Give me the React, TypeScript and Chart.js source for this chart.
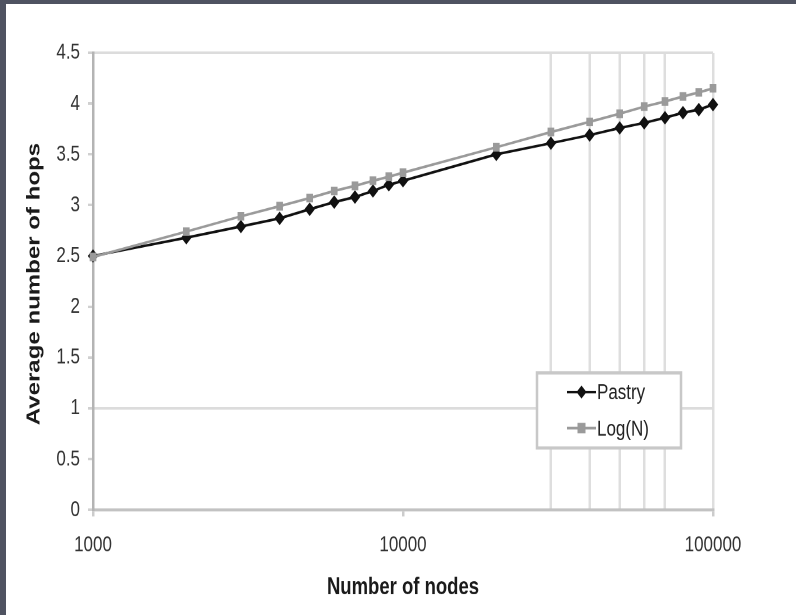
import React, { useEffect, useRef } from 'react';
import { Chart, registerables } from 'chart.js';

Chart.register(...registerables);

// ---- data ----
const NODES = [1000, 2000, 3000, 4000, 5000, 6000, 7000, 8000, 9000, 10000, 20000, 30000, 40000, 50000, 60000, 70000, 80000, 90000, 100000];
const PASTRY = [2.5, 2.68, 2.79, 2.87, 2.96, 3.03, 3.08, 3.14, 3.2, 3.24, 3.5, 3.61, 3.69, 3.76, 3.81, 3.86, 3.91, 3.94, 3.99];
const LOGN = [2.49, 2.74, 2.89, 2.99, 3.07, 3.14, 3.19, 3.24, 3.28, 3.32, 3.57, 3.72, 3.82, 3.9, 3.97, 4.02, 4.07, 4.11, 4.15];
const SERIES_NAMES = ['Pastry', 'Log(N)'];
const X_TICK_LABELS = ['1000', '10000', '100000'];
const X_GRID_VALUES = [30000, 40000, 50000, 60000, 70000, 100000];
const Y_GRID_VALUES = [1, 4.5];
const Y_MIN = 0;
const Y_MAX = 4.5;
const Y_STEP = 0.5;
const X_TITLE = 'Number of nodes';
const Y_TITLE = 'Average number of hops';

// ---- layout (canvas logical space; canvas is stretched vertically by CSS) ----
const W = 790;
const H = 470;
const CSS_H = 611;
const FONT = '"Liberation Sans", Arial, Helvetica, sans-serif';

const PASTRY_COLOR = '#111111';
const LOGN_COLOR = '#9a9a9a';

const near = (a: number, b: number) => Math.abs(a - b) < 1e-6 * Math.max(1, Math.abs(b));

function drawDiamond(ctx: CanvasRenderingContext2D, x: number, y: number, r: number) {
  ctx.beginPath();
  ctx.moveTo(x, y - r);
  ctx.lineTo(x + r, y);
  ctx.lineTo(x, y + r);
  ctx.lineTo(x - r, y);
  ctx.closePath();
  ctx.fill();
}

const overlayPlugin = {
  id: 'overlay',
  afterDraw(chart: any) {
    const ctx: CanvasRenderingContext2D = chart.ctx;
    const ca = chart.chartArea;
    ctx.save();
    // axis titles
    ctx.fillStyle = '#1a1a1a';
    ctx.font = `bold 18.5px ${FONT}`;
    ctx.textAlign = 'center';
    ctx.textBaseline = 'middle';
    ctx.fillText(X_TITLE, (ca.left + ca.right) / 2, 448.8);
    ctx.save();
    ctx.translate(28.5, 215.4);
    ctx.rotate(-Math.PI / 2);
    ctx.fillText(Y_TITLE, 0, 0);
    ctx.restore();

    // legend box
    const lx = 531, ly = 283.8, lw = 144, lh = 57.7;
    ctx.fillStyle = '#ffffff';
    ctx.fillRect(lx, ly, lw, lh);
    ctx.strokeStyle = '#c8c8c8';
    ctx.lineWidth = 2.5;
    ctx.strokeRect(lx, ly, lw, lh);

    const rows = [
      { name: SERIES_NAMES[0], color: PASTRY_COLOR, y: 298.5, shape: 'diamond' },
      { name: SERIES_NAMES[1], color: LOGN_COLOR, y: 326.2, shape: 'square' },
    ];
    rows.forEach((r) => {
      ctx.strokeStyle = r.color;
      ctx.lineWidth = 2;
      ctx.beginPath();
      ctx.moveTo(561, r.y);
      ctx.lineTo(590, r.y);
      ctx.stroke();
      ctx.fillStyle = r.color;
      if (r.shape === 'diamond') drawDiamond(ctx, 575.5, r.y, 5);
      else ctx.fillRect(571.5, r.y - 4, 8, 8);
      ctx.fillStyle = '#222222';
      ctx.font = `17px ${FONT}`;
      ctx.textAlign = 'left';
      ctx.textBaseline = 'middle';
      ctx.fillText(r.name, 591, r.y + 1);
    });
    ctx.restore();
  },
};

export default function App() {
  const ref = useRef<HTMLCanvasElement | null>(null);

  useEffect(() => {
    if (!ref.current) return;
    const chart = new Chart(ref.current, {
      type: 'line',
      data: {
        datasets: [
          {
            label: SERIES_NAMES[0],
            data: NODES.map((n, i) => ({ x: n, y: PASTRY[i] })),
            borderColor: PASTRY_COLOR,
            backgroundColor: PASTRY_COLOR,
            borderWidth: 2,
            pointStyle: 'rectRot',
            pointRadius: 4.5,
            pointBorderWidth: 1,
            pointBorderColor: PASTRY_COLOR,
            pointBackgroundColor: PASTRY_COLOR,
            tension: 0,
            clip: false,
            order: 1,
          },
          {
            label: SERIES_NAMES[1],
            data: NODES.map((n, i) => ({ x: n, y: LOGN[i] })),
            borderColor: LOGN_COLOR,
            backgroundColor: LOGN_COLOR,
            borderWidth: 2,
            pointStyle: 'rect',
            pointRadius: 4,
            pointBorderWidth: 1,
            pointBorderColor: LOGN_COLOR,
            pointBackgroundColor: LOGN_COLOR,
            tension: 0,
            clip: false,
            order: 0,
          },
        ],
      },
      options: {
        responsive: false,
        maintainAspectRatio: false,
        devicePixelRatio: 2,
        animation: false,
        events: [],
        layout: { padding: { top: 37.5, right: 83, left: 0, bottom: 0 } },
        plugins: {
          legend: { display: false },
          title: { display: false },
          tooltip: { enabled: false },
        },
        scales: {
          x: {
            type: 'logarithmic',
            min: 1000,
            max: 100000,
            afterFit: (s: any) => { s.height = H - 389.2; },
            border: { display: true, color: '#c2c2c2', width: 2.2 },
            grid: {
              color: (c: any) => (c.tick && X_GRID_VALUES.some((v) => near(c.tick.value, v)) ? '#dedede' : 'rgba(0,0,0,0)'),
              tickColor: (c: any) => (c.tick && X_TICK_LABELS.some((v) => near(c.tick.value, Number(v))) ? '#cccccc' : 'rgba(0,0,0,0)'),
              lineWidth: 2.5,
              tickLength: 5,
              drawTicks: true,
            },
            ticks: {
              autoSkip: false,
              maxRotation: 0,
              minRotation: 0,
              padding: 12,
              color: '#333333',
              font: { family: FONT, size: 17 },
              callback: (value: any) => {
                const s = String(Math.round(Number(value)));
                return X_TICK_LABELS.includes(s) ? s : '';
              },
            },
          },
          y: {
            type: 'linear',
            min: Y_MIN,
            max: Y_MAX,
            afterFit: (s: any) => { s.width = 87; },
            border: { display: true, color: '#b4b4b4', width: 2.5 },
            grid: {
              color: (c: any) => (c.tick && Y_GRID_VALUES.some((v) => near(c.tick.value, v)) ? '#dcdcdc' : 'rgba(0,0,0,0)'),
              tickColor: '#d0d0d0',
              lineWidth: 2,
              tickLength: 5,
            },
            ticks: {
              stepSize: Y_STEP,
              padding: 8,
              color: '#333333',
              font: { family: FONT, size: 17 },
              callback: (value: any) => String(Math.round(Number(value) * 10) / 10),
            },
          },
        },
      },
      plugins: [overlayPlugin],
    } as any);
    return () => chart.destroy();
  }, []);

  return (
    <div
      style={{
        position: 'fixed',
        left: 0,
        top: 0,
        width: 796,
        height: 615,
        boxSizing: 'border-box',
        background: '#ffffff',
        borderLeft: '6px solid #4f5361',
        borderTop: '4px solid #4f5361',
        overflow: 'hidden',
      }}
    >
      <div style={{ position: 'absolute', left: 121, top: -4, width: 8, height: 3, background: '#000' }} />
      <canvas
        ref={ref}
        width={W}
        height={H}
        style={{ position: 'absolute', left: 0, top: 0, width: `${W}px`, height: `${CSS_H}px`, display: 'block' }}
      />
    </div>
  );
}
